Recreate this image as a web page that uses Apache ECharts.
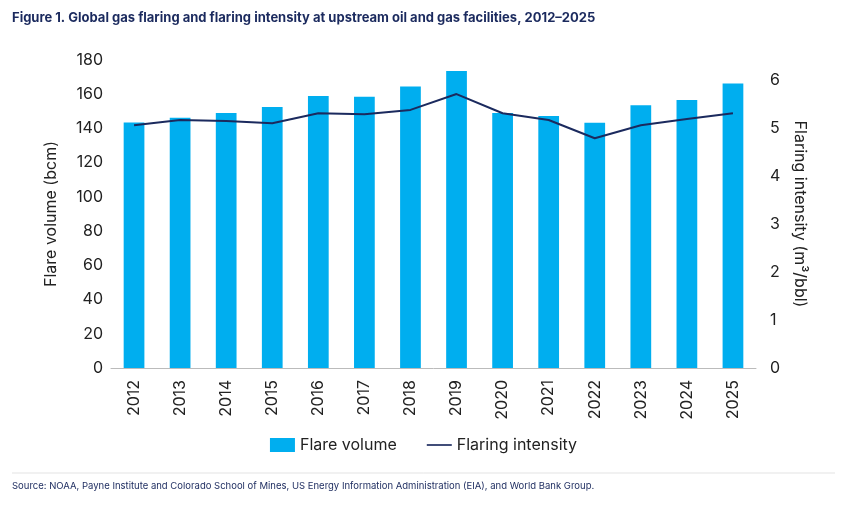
<!DOCTYPE html><html><head><meta charset="utf-8"><script src="https://cdn.jsdelivr.net/npm/echarts@6/dist/echarts.min.js"></script>
<style>body{margin:0;background:#fff}#c{width:847px;height:505px}</style></head><body><div id="c"></div><script>
const years=['2012','2013','2014','2015','2016','2017','2018','2019','2020','2021','2022','2023','2024','2025'];
const flareVolume=[143.5,146.2,149,152.5,159,158.5,164.5,173.6,149,147.3,143.3,153.5,156.6,166.2];
const flaringIntensity=[5.06,5.17,5.15,5.1,5.31,5.29,5.38,5.71,5.31,5.17,4.79,5.06,5.19,5.31];
const c=echarts.init(document.getElementById('c'));
const ax={fontFamily:'Inter',fontSize:16,color:'#222'};
c.setOption({
 graphic:[{type:'text',left:12,top:12,style:{text:'Figure 1. Global gas flaring and flaring intensity at upstream oil and gas facilities, 2012–2025',fontFamily:'Inter',fontWeight:'bold',fontSize:13,fill:'#1b2a5e'}},
  {type:'line',shape:{x1:12,y1:473,x2:835,y2:473},style:{stroke:'#e3e3e3',lineWidth:1}},
  {type:'text',left:12,top:481,style:{text:'Source: NOAA, Payne Institute and Colorado School of Mines, US Energy Information Administration (EIA), and World Bank Group.',fontFamily:'Inter',fontSize:9.5,fill:'#1b2a5e'}}],
 grid:{left:111,right:91,top:60,bottom:137},
 legend:{bottom:47,left:'center',itemGap:30,textStyle:{fontFamily:'Inter',fontSize:16,color:'#222'},
  data:[{name:'Flare volume',icon:'rect',itemWidth:30,itemHeight:13},{name:'Flaring intensity',icon:'path://M0,0H30V2H0Z',itemWidth:30,itemHeight:2}]},
 xAxis:{type:'category',data:years,axisTick:{show:false},axisLine:{lineStyle:{color:'#bbb'}},axisLabel:{...ax,rotate:90,margin:12}},
 yAxis:[{type:'value',min:0,max:180,interval:20,name:'Flare volume (bcm)',nameLocation:'middle',nameGap:52,nameTextStyle:ax,splitLine:{show:false},axisLabel:ax},
  {type:'value',min:0,max:6.42,interval:1,name:'Flaring intensity (m³/bbl)',nameLocation:'middle',nameGap:36,nameRotate:-90,nameTextStyle:ax,splitLine:{show:false},axisLabel:{...ax,margin:14,showMaxLabel:false}}],
 series:[{name:'Flare volume',type:'bar',data:flareVolume,barWidth:'45%',itemStyle:{color:'#00aeef'}},
  {name:'Flaring intensity',type:'line',yAxisIndex:1,data:flaringIntensity,symbol:'none',lineStyle:{color:'#1b2a5e',width:2},itemStyle:{color:'#1b2a5e'}}]
});
</script></body></html>
